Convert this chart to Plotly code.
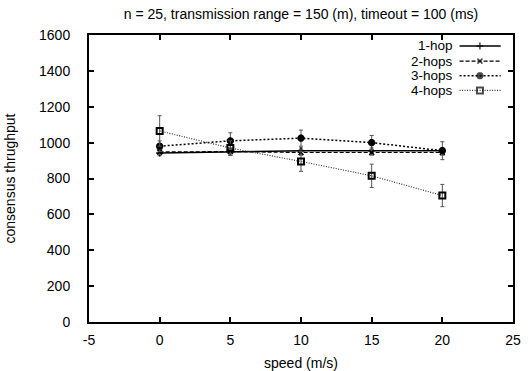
import plotly.graph_objects as go

speed = [0, 5, 10, 15, 20]

hop1 = [942, 948, 955, 955, 955]
hop1_err = [15, 20, 15, 15, 15]
hop2 = [948, 950, 945, 945, 945]
hop2_err = [15, 20, 15, 15, 15]
hop3 = [980, 1010, 1025, 1000, 955]
hop3_err = [30, 45, 45, 40, 50]
hop4 = [1065, 970, 895, 815, 705]
hop4_err = [85, 40, 55, 65, 62]

series_names = ["1-hop", "2-hops", "3-hops", "4-hops"]
x_ticks = [-5, 0, 5, 10, 15, 20, 25]
y_ticks = [0, 200, 400, 600, 800, 1000, 1200, 1400, 1600]

FONT = "Liberation Sans, Arial, sans-serif"

styles = [
    dict(dash="solid", width=1.5, color="black", symbol="cross-thin", msize=5, mlw=1.5),
    dict(dash="4px,2px", width=1.2, color="black", symbol="x-thin", msize=5, mlw=1.5),
    dict(dash="2px,2px", width=1.5, color="black", symbol="asterisk", msize=6, mlw=2.5),
    dict(dash="1px,1.5px", width=1.2, color="#333333", symbol="square-open", msize=6, mlw=2),
]
values = [hop1, hop2, hop3, hop4]
errors = [hop1_err, hop2_err, hop3_err, hop4_err]

fig = go.Figure()
for name, vals, errs, st in zip(series_names, values, errors, styles):
    fig.add_trace(go.Scatter(
        x=speed, y=vals, name=name, mode="lines+markers",
        line=dict(color=st["color"], dash=st["dash"], width=st["width"]),
        marker=dict(symbol=st["symbol"], size=st["msize"], color="black",
                    line=dict(color="black", width=st["mlw"])),
        error_y=dict(type="data", array=errs, visible=True, color="#555555",
                     thickness=1, width=2),
        showlegend=False,
    ))

# key drawn inside the plot, text right-aligned with the sample to its right
key_rows = [0.962, 0.909, 0.858, 0.807]
for name, st, ry in zip(series_names, styles, key_rows):
    fig.add_trace(go.Scatter(
        x=[0.874, 0.922, 0.971], y=[ry, ry, ry], xaxis="x2", yaxis="y2",
        mode="lines+markers",
        line=dict(color=st["color"], dash=st["dash"], width=st["width"]),
        marker=dict(symbol=st["symbol"], size=[0, st["msize"], 0], color="black",
                    line=dict(color="black", width=st["mlw"])),
        showlegend=False, hoverinfo="skip",
    ))
    fig.add_annotation(
        x=0.862, y=ry, xref="x2", yref="y2", text=name, showarrow=False,
        xanchor="right", yanchor="middle", borderpad=0,
        font=dict(family=FONT, size=13.5, color="black"),
    )

axis_common = dict(
    showline=True, linecolor="black", linewidth=2, mirror="ticks",
    ticks="inside", ticklen=5, tickwidth=2, tickcolor="black",
    showgrid=False, zeroline=False, automargin=False,
    tickfont=dict(family=FONT, size=14, color="black"),
)

fig.update_layout(
    width=529, height=371,
    margin=dict(l=89, r=16, t=35, b=49),
    paper_bgcolor="white", plot_bgcolor="white",
    title=dict(text="n = 25, transmission range = 150 (m), timeout = 100 (ms)",
               x=0.569, xanchor="center", y=0.963, yanchor="middle",
               font=dict(family=FONT, size=14, color="black")),
    xaxis=dict(range=[-5, 25], tickvals=x_ticks, ticktext=[str(v) for v in x_ticks],
               ticklabelstandoff=4,
               title=dict(text="speed (m/s)", standoff=12,
                          font=dict(family=FONT, size=14, color="black")),
               **axis_common),
    yaxis=dict(range=[0, 1600], tickvals=y_ticks, ticktext=[str(v) for v in y_ticks],
               ticklabelstandoff=14,
               title=dict(text="consensus thrughput", standoff=20,
                          font=dict(family=FONT, size=14, color="black")),
               **axis_common),
    xaxis2=dict(range=[0, 1], overlaying="x", visible=False, domain=[0, 1]),
    yaxis2=dict(range=[0, 1], overlaying="y", visible=False),
)

fig.write_html("out.html")
